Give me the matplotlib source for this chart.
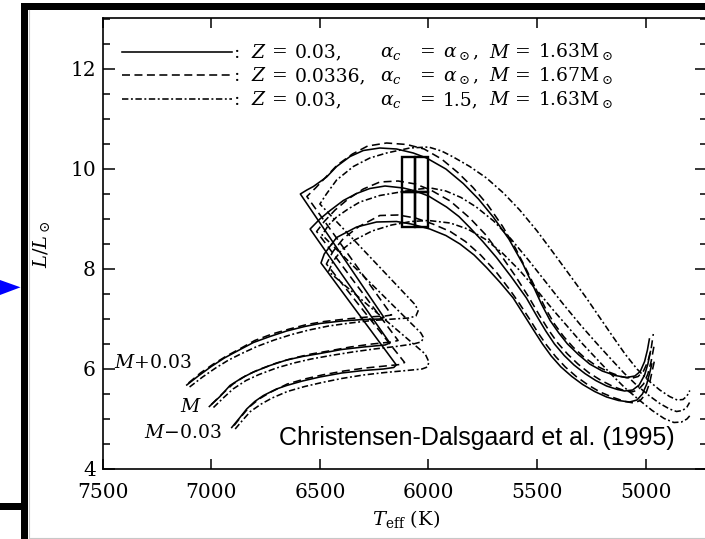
import matplotlib
matplotlib.use('Agg')
import matplotlib.pyplot as plt
from matplotlib.patches import Rectangle, Polygon
from matplotlib.ticker import MultipleLocator

plt.rcParams['font.family'] = 'DejaVu Serif'
plt.rcParams['mathtext.fontset'] = 'dejavuserif'

# Tracks: Teff (K) and L/Lsun
# solid: Z = 0.03, alpha_c = alpha_sun, M = 1.63
solid_hi_teff = [7113, 7060, 7000, 6940, 6880, 6806, 6730, 6653, 6570, 6500, 6400, 6300, 6225, 6205,
                 6590, 6560, 6530, 6469, 6423, 6361, 6300, 6224, 6147, 6070, 6009, 5920, 5840, 5770,
                 5702, 5630, 5564, 5520, 5480, 5440, 5400, 5360, 5310, 5258, 5200, 5140, 5089, 5050,
                 5025, 5005, 4992, 4983]
solid_hi_lum = [5.68, 5.86, 6.05, 6.22, 6.36, 6.53, 6.65, 6.76, 6.85, 6.91, 6.96, 6.99, 7.00, 7.03,
                9.50, 9.58, 9.65, 9.84, 10.05, 10.25, 10.37, 10.42, 10.40, 10.32, 10.22, 10.00, 9.71, 9.40,
                9.04, 8.60, 8.09, 7.68, 7.30, 6.97, 6.72, 6.50, 6.29, 6.10, 5.96, 5.87, 5.83, 5.86,
                5.95, 6.15, 6.38, 6.60]
solid_mid_teff = [7009, 6960, 6914, 6860, 6806, 6730, 6653, 6580, 6500, 6400, 6300, 6200, 6178,
                  6545, 6500, 6453, 6392, 6331, 6270, 6200, 6116, 6060, 6000, 5917, 5860, 5810, 5750,
                  5687, 5620, 5549, 5500, 5460, 5420, 5375, 5330, 5280, 5230, 5180, 5130, 5097, 5060,
                  5030, 5005, 4990, 4978]
solid_mid_lum = [5.25, 5.45, 5.67, 5.82, 5.94, 6.07, 6.18, 6.25, 6.31, 6.39, 6.44, 6.48, 6.52,
                 8.80, 9.00, 9.17, 9.37, 9.51, 9.61, 9.66, 9.62, 9.56, 9.46, 9.24, 9.05, 8.83, 8.55,
                 8.23, 7.85, 7.42, 7.05, 6.76, 6.50, 6.27, 6.08, 5.91, 5.77, 5.66, 5.59, 5.56, 5.58,
                 5.68, 5.88, 6.10, 6.35]
solid_lo_teff = [6906, 6870, 6837, 6800, 6760, 6700, 6653, 6580, 6500, 6400, 6300, 6208, 6160, 6148,
                 6495, 6480, 6423, 6331, 6239, 6147, 6080, 5994, 5920, 5855, 5790, 5733, 5670, 5610,
                 5560, 5515, 5475, 5435, 5390, 5340, 5290, 5235, 5180, 5125, 5074, 5040, 5015, 4995,
                 4980, 4972]
solid_lo_lum = [4.83, 5.02, 5.20, 5.35, 5.47, 5.60, 5.67, 5.76, 5.84, 5.92, 5.97, 6.00, 6.03, 6.08,
                8.12, 8.30, 8.63, 8.84, 8.94, 8.95, 8.90, 8.80, 8.67, 8.50, 8.28, 8.03, 7.73, 7.42,
                7.08, 6.77, 6.50, 6.26, 6.04, 5.85, 5.69, 5.55, 5.44, 5.37, 5.34, 5.38, 5.50, 5.70,
                5.95, 6.10]

# dashed: Z = 0.0336, alpha_c = alpha_sun, M = 1.67
dash_hi_teff = [7105, 7050, 6990, 6930, 6870, 6800, 6720, 6640, 6560, 6480, 6380, 6280, 6200, 6170,
                6560, 6520, 6470, 6420, 6350, 6280, 6193, 6100, 6020, 5940, 5865, 5795, 5727, 5660,
                5600, 5545, 5500, 5460, 5420, 5378, 5335, 5285, 5230, 5170, 5115, 5068, 5035, 5010,
                4990, 4975, 4965]
dash_hi_lum = [5.72, 5.92, 6.10, 6.26, 6.40, 6.57, 6.70, 6.80, 6.89, 6.95, 7.00, 7.04, 7.06, 7.08,
               9.45, 9.62, 9.85, 10.08, 10.30, 10.46, 10.52, 10.49, 10.40, 10.20, 9.93, 9.63, 9.28, 8.86,
               8.42, 7.95, 7.55, 7.20, 6.90, 6.65, 6.44, 6.24, 6.07, 5.94, 5.85, 5.81, 5.85, 5.96,
               6.15, 6.40, 6.70]
dash_mid_teff = [7000, 6950, 6900, 6840, 6780, 6700, 6620, 6540, 6460, 6360, 6260, 6170, 6140,
                 6515, 6480, 6430, 6370, 6300, 6224, 6140, 6060, 5990, 5900, 5810, 5740, 5670, 5600,
                 5540, 5490, 5447, 5405, 5360, 5312, 5260, 5205, 5150, 5100, 5065, 5035, 5010, 4990,
                 4975, 4962]
dash_mid_lum = [5.29, 5.50, 5.70, 5.87, 5.99, 6.12, 6.22, 6.30, 6.36, 6.44, 6.50, 6.54, 6.57,
                8.75, 8.95, 9.18, 9.40, 9.60, 9.74, 9.76, 9.70, 9.58, 9.36, 9.02, 8.70, 8.30, 7.86,
                7.45, 7.08, 6.78, 6.52, 6.30, 6.10, 5.92, 5.77, 5.65, 5.57, 5.54, 5.58, 5.70, 5.90,
                6.15, 6.45]
dash_lo_teff = [6895, 6860, 6825, 6780, 6730, 6650, 6570, 6490, 6390, 6290, 6200, 6130, 6110,
                6470, 6440, 6390, 6320, 6224, 6140, 6060, 5980, 5900, 5830, 5760, 5690, 5625, 5580,
                5535, 5495, 5455, 5415, 5370, 5320, 5265, 5210, 5150, 5095, 5055, 5025, 5000, 4982,
                4968, 4958]
dash_lo_lum = [4.87, 5.06, 5.24, 5.40, 5.53, 5.70, 5.80, 5.88, 5.96, 6.02, 6.06, 6.09, 6.13,
               8.10, 8.35, 8.62, 8.85, 9.07, 9.08, 9.02, 8.90, 8.75, 8.55, 8.28, 7.95, 7.58, 7.30,
               7.00, 6.72, 6.47, 6.25, 6.04, 5.85, 5.68, 5.54, 5.43, 5.35, 5.32, 5.37, 5.50, 5.72,
               6.00, 6.20]

# dash-dot: Z = 0.03, alpha_c = 1.5, M = 1.63
dd_hi_teff = [7100, 7040, 6980, 6920, 6860, 6790, 6710, 6630, 6550, 6460, 6360, 6260, 6160, 6090,
              6058, 6048, 6060, 6500, 6470, 6423, 6346, 6270, 6193, 6086, 6000, 5940, 5886, 5810,
              5733, 5655, 5580, 5500, 5426, 5350, 5273, 5210, 5150, 5095, 5040, 4985, 4935, 4890,
              4855, 4828, 4810, 4797]
dd_hi_lum = [5.64, 5.84, 6.02, 6.18, 6.31, 6.45, 6.58, 6.69, 6.78, 6.86, 6.92, 6.97, 7.00, 7.02,
             7.06, 7.16, 7.28, 9.30, 9.50, 9.78, 10.05, 10.22, 10.32, 10.42, 10.44, 10.36, 10.24, 10.05,
             9.82, 9.52, 9.18, 8.76, 8.33, 7.88, 7.42, 7.02, 6.64, 6.30, 6.00, 5.76, 5.58, 5.45,
             5.38, 5.39, 5.46, 5.57]
dd_mid_teff = [6990, 6945, 6900, 6840, 6780, 6700, 6620, 6540, 6450, 6350, 6250, 6150, 6070, 6035,
               6022, 6035, 6490, 6460, 6423, 6370, 6316, 6224, 6116, 6040, 5990, 5920, 5850, 5780,
               5700, 5620, 5540, 5460, 5380, 5300, 5227, 5160, 5100, 5040, 4985, 4935, 4890, 4858,
               4830, 4810, 4798]
dd_mid_lum = [5.23, 5.42, 5.60, 5.77, 5.89, 6.02, 6.12, 6.20, 6.27, 6.34, 6.40, 6.45, 6.50, 6.54,
              6.62, 6.72, 8.68, 8.88, 9.04, 9.20, 9.34, 9.47, 9.55, 9.60, 9.62, 9.56, 9.43, 9.24,
              8.96, 8.60, 8.18, 7.74, 7.30, 6.88, 6.52, 6.20, 5.92, 5.67, 5.47, 5.31, 5.20, 5.15,
              5.17, 5.24, 5.33]
dd_lo_teff = [6890, 6855, 6820, 6770, 6720, 6650, 6570, 6490, 6400, 6300, 6200, 6100, 6030, 6005,
              5998, 6015, 6460, 6440, 6400, 6340, 6260, 6170, 6080, 6000, 5900, 5820, 5740, 5660,
              5580, 5500, 5420, 5350, 5290, 5225, 5160, 5095, 5030, 4970, 4915, 4870, 4835, 4810,
              4790]
dd_lo_lum = [4.80, 4.98, 5.15, 5.30, 5.42, 5.55, 5.65, 5.73, 5.81, 5.88, 5.93, 5.97, 6.00, 6.04,
             6.14, 6.30, 7.95, 8.15, 8.38, 8.58, 8.76, 8.88, 8.95, 8.97, 8.92, 8.80, 8.60, 8.32,
             7.97, 7.57, 7.15, 6.80, 6.50, 6.20, 5.90, 5.62, 5.38, 5.17, 5.01, 4.93, 4.94, 5.00,
             5.10]

# error boxes (Teff edges, L edges)
box_teff = [6120, 6060, 6000]
box_lum = [8.84, 9.54, 10.24]

legend_rows = [
    ('0.03,', r'$\alpha_\odot$,', '1.63M$_\odot$'),
    ('0.0336,', r'$\alpha_\odot$,', '1.67M$_\odot$'),
    ('0.03,', '1.5,', '1.63M$_\odot$'),
]
mass_labels = ['$M$+0.03', '$M$', '$M$\u22120.03']

DASHED = (0, (5, 2.8))
DASHDOT = (0, (4, 1.6, 1.2, 1.6))

W, H = 705, 539
fig = plt.figure(figsize=(W / 100, H / 100), dpi=100)
fig.patch.set_facecolor('white')

ax = fig.add_axes([102.7 / W, 1 - 469 / H, (706.5 - 102.7) / W, (469 - 18) / H])
ax.set_xlim(7500, 4720)
ax.set_ylim(4, 13.02)

tracks = [
    (solid_hi_teff, solid_hi_lum, '-'), (solid_mid_teff, solid_mid_lum, '-'), (solid_lo_teff, solid_lo_lum, '-'),
    (dash_hi_teff, dash_hi_lum, DASHED), (dash_mid_teff, dash_mid_lum, DASHED), (dash_lo_teff, dash_lo_lum, DASHED),
    (dd_hi_teff, dd_hi_lum, DASHDOT), (dd_mid_teff, dd_mid_lum, DASHDOT), (dd_lo_teff, dd_lo_lum, DASHDOT),
]
for teff, lum, ls in tracks:
    ax.plot(teff, lum, color='black', lw=1.15, linestyle=ls, solid_joinstyle='round')

for i in range(2):
    for j in range(2):
        ax.add_patch(Rectangle((box_teff[i + 1], box_lum[j]), box_teff[i] - box_teff[i + 1],
                               box_lum[j + 1] - box_lum[j], fill=False, lw=1.7, ec='black'))

ax.set_xticks([7500, 7000, 6500, 6000, 5500, 5000])
ax.set_yticks([4, 6, 8, 10, 12])
ax.yaxis.set_minor_locator(MultipleLocator(0.5))
ax.tick_params(axis='x', which='major', direction='in', length=7, width=1.1, top=True, pad=10, labelsize=14.5)
ax.tick_params(axis='y', which='major', direction='in', length=8.5, width=1.1, right=True, pad=5, labelsize=14.5)
ax.tick_params(axis='y', which='minor', direction='in', length=5, width=1.1, right=True)
for sp in ax.spines.values():
    sp.set_linewidth(1.2)

# overlay in pixel coordinates for frame, legend and labels
ov = fig.add_axes([0, 0, 1, 1], zorder=5)
ov.set_xlim(0, W)
ov.set_ylim(H, 0)
ov.axis('off')

ov.add_patch(Rectangle((20.7, 2.7), 7.0, H, color='black', lw=0))
ov.add_patch(Rectangle((20.7, 2.7), W, 7.3, color='black', lw=0))
ov.add_patch(Rectangle((0, 503), 21, 7, color='black', lw=0))
ov.add_patch(Polygon([(0, 280), (20.5, 287.3), (0, 295)], closed=True, color='#0000ff', lw=0))
ov.plot([28.5, 28.5], [10, H], color='#c8c8c8', lw=0.8)
ov.plot([28.5, W], [537.5, 537.5], color='#c8c8c8', lw=0.8)

rows_y = [51.5, 75, 99]
for y, ls, (zval, aval, mval) in zip(rows_y, ['-', DASHED, DASHDOT], legend_rows):
    ov.plot([122, 232], [y, y], color='black', lw=1.15, linestyle=ls)
    b = y + 6
    fs = 13.5
    ov.text(234, b, ':', fontsize=fs, va='baseline')
    ov.text(251, b, '$Z$', fontsize=fs, va='baseline')
    ov.text(272, b, '=', fontsize=fs, va='baseline')
    ov.text(295, b, zval, fontsize=fs, va='baseline')
    ov.text(380, b, r'$\alpha_c$', fontsize=fs, va='baseline')
    ov.text(420, b, '=', fontsize=fs, va='baseline')
    ov.text(443, b, aval, fontsize=fs, va='baseline')
    ov.text(489, b, '$M$', fontsize=fs, va='baseline')
    ov.text(515, b, '=', fontsize=fs, va='baseline')
    ov.text(538, b, mval, fontsize=fs, va='baseline')

ov.text(192, 363, mass_labels[0], fontsize=13.5, ha='right', va='center')
ov.text(191, 407, mass_labels[1], fontsize=13.5, ha='center', va='center')
ov.text(183, 433, mass_labels[2], fontsize=13.5, ha='center', va='center')

ov.text(476.5, 438, 'Christensen-Dalsgaard et al. (1995)', family='Liberation Sans',
        fontsize=18, ha='center', va='center')
ov.text(406, 519, r'$T_{\rm eff}$ (K)', fontsize=14, ha='center', va='center')
ov.text(41, 244, r'$L/L_\odot$', fontsize=14, ha='center', va='center', rotation=90)

fig.savefig('out.png', dpi=100)
